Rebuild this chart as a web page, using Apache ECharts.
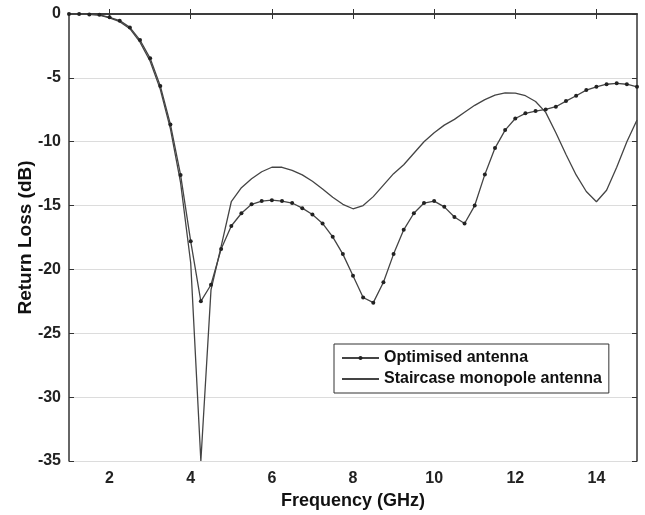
<!DOCTYPE html>
<html>
<head>
<meta charset="utf-8">
<script src="https://cdn.jsdelivr.net/npm/echarts@6/dist/echarts.min.js"></script>
<style>
  html, body { margin: 0; padding: 0; background: #fff; }
  #Charts { width: 645px; height: 515px; }
</style>
</head>
<body>
<div id="Charts"></div>
<script>
// frequency points, GHz (0.25 GHz step)
var freq = [1.0, 1.25, 1.5, 1.75, 2.0, 2.25, 2.5, 2.75, 3.0, 3.25, 3.5, 3.75,
    4.0, 4.25, 4.5, 4.75, 5.0, 5.25, 5.5, 5.75, 6.0, 6.25, 6.5, 6.75,
    7.0, 7.25, 7.5, 7.75, 8.0, 8.25, 8.5, 8.75, 9.0, 9.25, 9.5, 9.75,
    10.0, 10.25, 10.5, 10.75, 11.0, 11.25, 11.5, 11.75, 12.0, 12.25, 12.5, 12.75,
    13.0, 13.25, 13.5, 13.75, 14.0, 14.25, 14.5, 14.75, 15.0];

// return loss, dB
var optimised = [0, 0, -0.03, -0.06, -0.26, -0.52, -1.05, -2.04, -3.47, -5.64, -8.65, -12.6,
    -17.8, -22.5, -21.2, -18.4, -16.6, -15.6, -14.9, -14.65, -14.58, -14.65, -14.8, -15.2,
    -15.7, -16.4, -17.45, -18.8, -20.5, -22.2, -22.6, -21.0, -18.8, -16.9, -15.6, -14.8,
    -14.65, -15.1, -15.9, -16.4, -15.0, -12.56, -10.5, -9.09, -8.18, -7.78, -7.6, -7.47,
    -7.26, -6.82, -6.4, -5.96, -5.7, -5.5, -5.43, -5.5, -5.7];

var staircase = [0, 0, -0.03, -0.08, -0.3, -0.6, -1.15, -2.2, -3.7, -5.9, -9.0, -13.2,
    -19.5, -35, -21.6, -18.2, -14.7, -13.6, -12.9, -12.35, -12.0, -12.0, -12.25, -12.6,
    -13.1, -13.7, -14.35, -14.9, -15.25, -15.0, -14.3, -13.4, -12.5, -11.8, -10.9, -10.0,
    -9.3, -8.7, -8.25, -7.7, -7.15, -6.7, -6.35, -6.18, -6.2, -6.4, -6.85, -7.7,
    -9.3, -11.0, -12.6, -13.9, -14.7, -13.8, -12.0, -10.0, -8.3];

var xTicks = [2, 4, 6, 8, 10, 12, 14];

makeChart();

function makeChart(){
    var optData = [];
    var stairData = [];
    for (var i = 0; i < freq.length; i++) {
        optData.push([freq[i], optimised[i]]);
        stairData.push([freq[i], staircase[i]]);
    }
    var fontFam = 'Liberation Sans, Arial, sans-serif';
    var axisLine = { show: true, lineStyle: { color: '#333', width: 1.5 } };
    var option = {
        animation: false,
        grid: { left: 69, right: 8, top: 14, bottom: 54, containLabel: false },
        legend: {
            orient: 'vertical',
            left: 334,
            top: 344,
            padding: [6, 7, 6, 7],
            itemWidth: 37,
            itemHeight: 5,
            itemGap: 5,
            borderColor: '#333',
            borderWidth: 1,
            backgroundColor: '#fff',
            textStyle: { fontFamily: fontFam, fontWeight: 'bold', fontSize: 16, color: '#111' },
            data: [
                { name: 'Optimised antenna' },
                // line only, hide the marker that the legend adds by default
                { name: 'Staircase monopole antenna', itemStyle: { opacity: 0 } }
            ]
        },
        xAxis: [
            {
                type: 'value', min: 1, max: 15,
                name: 'Frequency (GHz)', nameLocation: 'middle', nameGap: 29,
                nameTextStyle: { fontFamily: fontFam, fontWeight: 'bold', fontSize: 18, color: '#111' },
                axisLine: axisLine,
                axisTick: { show: true, inside: true, length: 5, customValues: xTicks, lineStyle: { color: '#333' } },
                axisLabel: { customValues: xTicks, fontFamily: fontFam, fontWeight: 'bold', fontSize: 16, color: '#222', margin: 10 },
                splitLine: { show: false }
            },
            {
                type: 'value', min: 1, max: 15, position: 'top',
                axisLine: axisLine,
                axisTick: { show: true, inside: true, length: 5, customValues: xTicks, lineStyle: { color: '#333' } },
                axisLabel: { show: false },
                splitLine: { show: false }
            }
        ],
        yAxis: [
            {
                type: 'value', min: -35, max: 0, interval: 5,
                name: 'Return Loss (dB)', nameLocation: 'middle', nameGap: 34,
                nameMoveOverlap: false,
                nameTextStyle: { fontFamily: fontFam, fontWeight: 'bold', fontSize: 19, color: '#111' },
                axisLine: axisLine,
                axisTick: { show: true, inside: true, length: 5, lineStyle: { color: '#333' } },
                axisLabel: { fontFamily: fontFam, fontWeight: 'bold', fontSize: 16, color: '#222', margin: 8 },
                splitLine: { show: true, lineStyle: { color: '#dcdcdc', width: 1 } }
            },
            {
                type: 'value', min: -35, max: 0, interval: 5, position: 'right',
                axisLine: axisLine,
                axisTick: { show: true, inside: true, length: 5, lineStyle: { color: '#333' } },
                axisLabel: { show: false },
                splitLine: { show: false }
            }
        ],
        series: [
            {
                name: 'Optimised antenna',
                type: 'line',
                data: optData,
                symbol: 'circle',
                symbolSize: 4,
                showSymbol: true,
                itemStyle: { color: '#222' },
                lineStyle: { color: '#444', width: 1.3 },
                clip: true
            },
            {
                name: 'Staircase monopole antenna',
                type: 'line',
                data: stairData,
                symbol: 'none',
                showSymbol: false,
                itemStyle: { color: '#444' },
                lineStyle: { color: '#444', width: 1.3 },
                clip: true
            }
        ]
    };
    var myChart = echarts.init(document.getElementById('Charts'));
    myChart.setOption(option);
}
</script>
</body>
</html>
